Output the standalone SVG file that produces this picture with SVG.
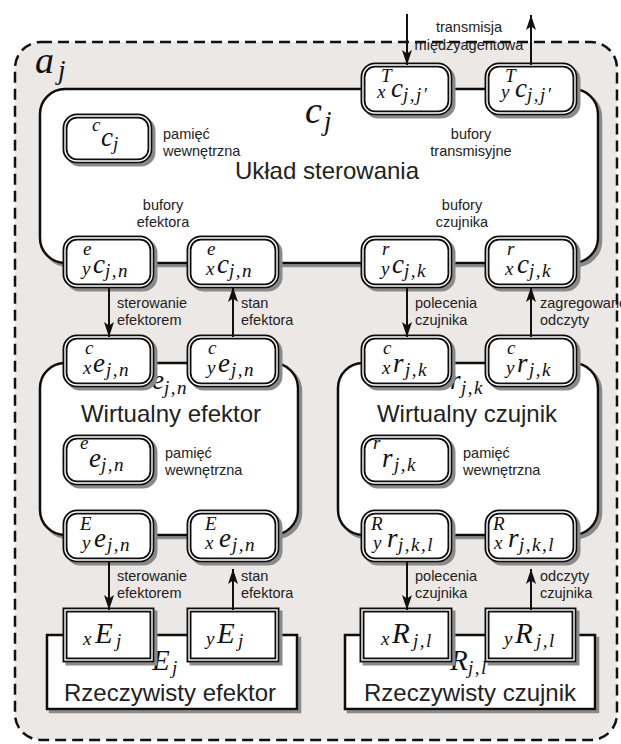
<svg xmlns="http://www.w3.org/2000/svg" width="621" height="744" viewBox="0 0 621 744">
<defs>
<style>
.frame{fill:#ebe8e6;stroke:#111;stroke-width:2.5;stroke-dasharray:11 6}
.main{fill:#fff;stroke:#111;stroke-width:2.5}
.bo{fill:#fff;stroke:#111;stroke-width:5}
.bi{fill:none;stroke:#fff;stroke-width:1.4}
.lb{font-family:"Liberation Sans",Arial,sans-serif;font-size:14.5px;fill:#222}
.tt{font-family:"Liberation Sans",Arial,sans-serif;font-size:24px;fill:#222;text-anchor:middle}
.mi{font-family:"Liberation Serif","Times New Roman",serif;font-style:italic;font-size:27px;fill:#111}
.sc{font-size:19px}
.ls{letter-spacing:1.5px}
.big{font-size:38px}
.r29{font-size:29px}
.con{stroke:#111;stroke-width:2;fill:none;marker-end:url(#ah)}
</style>
<filter id="sh" x="-10%" y="-10%" width="130%" height="130%">
<feOffset in="SourceAlpha" dx="3" dy="3" result="o"/>
<feGaussianBlur in="o" stdDeviation="0.7" result="b"/>
<feFlood flood-color="#8a8a8a"/>
<feComposite in2="b" operator="in" result="s"/>
<feMerge><feMergeNode in="s"/><feMergeNode in="SourceGraphic"/></feMerge>
</filter>
<marker id="ah" markerWidth="15" markerHeight="10" refX="15" refY="5" orient="auto" markerUnits="userSpaceOnUse">
<path d="M0,0 L15,5 L0,10 L3.5,5 z" fill="#111"/>
</marker>
</defs>

<g id="agent">
<rect class="frame" x="15" y="42" width="602" height="698" rx="26"/>
<text class="mi" x="35" y="73"><tspan class="big">a</tspan><tspan x="58" y="79">j</tspan></text>
</g>

<g id="control">
<rect class="main" x="40" y="89" width="558" height="174" rx="25" filter="url(#sh)"/>
<text class="mi" x="305" y="123"><tspan class="big">c</tspan><tspan x="324" y="130">j</tspan></text>
<text class="tt" x="327" y="179">Układ sterowania</text>
<text class="lb" x="163" y="139">pamięć</text>
<text class="lb" x="163" y="156">wewnętrzna</text>
<text class="lb" x="471" y="139" text-anchor="middle">bufory</text>
<text class="lb" x="471" y="156" text-anchor="middle">transmisyjne</text>
<text class="lb" x="163" y="210" text-anchor="middle">bufory</text>
<text class="lb" x="163" y="227" text-anchor="middle">efektora</text>
<text class="lb" x="462" y="210" text-anchor="middle">bufory</text>
<text class="lb" x="462" y="227" text-anchor="middle">czujnika</text>
</g>

<g id="mem-c">
<rect class="bo" x="65" y="116" width="85" height="45" rx="12" filter="url(#sh)"/><rect class="bi" x="65" y="116" width="85" height="45" rx="12"/>
<text class="mi"><tspan class="sc" x="92" y="131">c</tspan><tspan x="101" y="146">c</tspan><tspan class="sc" x="113" y="150">j</tspan></text>
</g>

<g id="buf-Tx">
<rect class="bo" x="363" y="65" width="87" height="48" rx="12" filter="url(#sh)"/><rect class="bi" x="363" y="65" width="87" height="48" rx="12"/>
<text class="mi"><tspan class="sc" x="381" y="82">T</tspan><tspan class="sc" x="377" y="98">x</tspan><tspan x="391" y="97">c</tspan><tspan class="sc ls" x="403" y="101">j,j′</tspan></text>
</g>
<g id="buf-Ty">
<rect class="bo" x="487" y="65" width="88" height="48" rx="12" filter="url(#sh)"/><rect class="bi" x="487" y="65" width="88" height="48" rx="12"/>
<text class="mi"><tspan class="sc" x="505" y="82">T</tspan><tspan class="sc" x="501" y="98">y</tspan><tspan x="515" y="97">c</tspan><tspan class="sc ls" x="527" y="101">j,j′</tspan></text>
</g>

<g id="buf-ey-c">
<rect class="bo" x="65" y="238" width="87" height="48" rx="12" filter="url(#sh)"/><rect class="bi" x="65" y="238" width="87" height="48" rx="12"/>
<text class="mi"><tspan class="sc" x="83" y="255">e</tspan><tspan class="sc" x="82" y="275">y</tspan><tspan x="93" y="273">c</tspan><tspan class="sc ls" x="105" y="277">j,n</tspan></text>
</g>
<g id="buf-ex-c">
<rect class="bo" x="189" y="238" width="88" height="48" rx="12" filter="url(#sh)"/><rect class="bi" x="189" y="238" width="88" height="48" rx="12"/>
<text class="mi"><tspan class="sc" x="207" y="255">e</tspan><tspan class="sc" x="206" y="275">x</tspan><tspan x="217" y="273">c</tspan><tspan class="sc ls" x="229" y="277">j,n</tspan></text>
</g>
<g id="buf-ry-c">
<rect class="bo" x="363" y="238" width="87" height="48" rx="12" filter="url(#sh)"/><rect class="bi" x="363" y="238" width="87" height="48" rx="12"/>
<text class="mi"><tspan class="sc" x="382" y="255">r</tspan><tspan class="sc" x="381" y="275">y</tspan><tspan x="392" y="273">c</tspan><tspan class="sc ls" x="404" y="277">j,k</tspan></text>
</g>
<g id="buf-rx-c">
<rect class="bo" x="487" y="238" width="88" height="48" rx="12" filter="url(#sh)"/><rect class="bi" x="487" y="238" width="88" height="48" rx="12"/>
<text class="mi"><tspan class="sc" x="507" y="255">r</tspan><tspan class="sc" x="505" y="275">x</tspan><tspan x="517" y="273">c</tspan><tspan class="sc ls" x="529" y="277">j,k</tspan></text>
</g>

<g id="virt-eff">
<rect class="main" x="40" y="363" width="258" height="172" rx="25" filter="url(#sh)"/>
<text class="mi"><tspan x="152" y="389">e</tspan><tspan class="sc ls" x="164" y="394">j,n</tspan></text>
<text class="tt" x="171" y="422">Wirtualny efektor</text>
<text class="lb" x="165" y="458">pamięć</text>
<text class="lb" x="165" y="475">wewnętrzna</text>
</g>
<g id="virt-sen">
<rect class="main" x="338" y="363" width="260" height="172" rx="25" filter="url(#sh)"/>
<text class="mi"><tspan x="450" y="389">r</tspan><tspan class="sc ls" x="461" y="394">j,k</tspan></text>
<text class="tt" x="467" y="422">Wirtualny czujnik</text>
<text class="lb" x="463" y="458">pamięć</text>
<text class="lb" x="463" y="475">wewnętrzna</text>
</g>

<g id="mem-e">
<rect class="bo" x="65" y="437" width="87" height="46" rx="12" filter="url(#sh)"/><rect class="bi" x="65" y="437" width="87" height="46" rx="12"/>
<text class="mi"><tspan class="sc" x="80" y="449">e</tspan><tspan x="89" y="467">e</tspan><tspan class="sc ls" x="101" y="471">j,n</tspan></text>
</g>
<g id="mem-r">
<rect class="bo" x="363" y="437" width="87" height="46" rx="12" filter="url(#sh)"/><rect class="bi" x="363" y="437" width="87" height="46" rx="12"/>
<text class="mi"><tspan class="sc" x="373" y="449">r</tspan><tspan x="382" y="467">r</tspan><tspan class="sc ls" x="394" y="471">j,k</tspan></text>
</g>

<g id="buf-cx-e">
<rect class="bo" x="65" y="337" width="87" height="48" rx="12" filter="url(#sh)"/><rect class="bi" x="65" y="337" width="87" height="48" rx="12"/>
<text class="mi"><tspan class="sc" x="85" y="354">c</tspan><tspan class="sc" x="83" y="374">x</tspan><tspan x="93" y="372">e</tspan><tspan class="sc ls" x="106" y="376">j,n</tspan></text>
</g>
<g id="buf-cy-e">
<rect class="bo" x="189" y="337" width="88" height="48" rx="12" filter="url(#sh)"/><rect class="bi" x="189" y="337" width="88" height="48" rx="12"/>
<text class="mi"><tspan class="sc" x="208" y="354">c</tspan><tspan class="sc" x="207" y="374">y</tspan><tspan x="218" y="372">e</tspan><tspan class="sc ls" x="231" y="376">j,n</tspan></text>
</g>
<g id="buf-cx-r">
<rect class="bo" x="363" y="337" width="87" height="48" rx="12" filter="url(#sh)"/><rect class="bi" x="363" y="337" width="87" height="48" rx="12"/>
<text class="mi"><tspan class="sc" x="383" y="354">c</tspan><tspan class="sc" x="382" y="374">x</tspan><tspan x="393" y="372">r</tspan><tspan class="sc ls" x="405" y="376">j,k</tspan></text>
</g>
<g id="buf-cy-r">
<rect class="bo" x="487" y="337" width="88" height="48" rx="12" filter="url(#sh)"/><rect class="bi" x="487" y="337" width="88" height="48" rx="12"/>
<text class="mi"><tspan class="sc" x="507" y="354">c</tspan><tspan class="sc" x="506" y="374">y</tspan><tspan x="517" y="372">r</tspan><tspan class="sc ls" x="529" y="376">j,k</tspan></text>
</g>

<g id="buf-Ey-e">
<rect class="bo" x="65" y="512" width="87" height="48" rx="12" filter="url(#sh)"/><rect class="bi" x="65" y="512" width="87" height="48" rx="12"/>
<text class="mi"><tspan class="sc" x="80" y="530">E</tspan><tspan class="sc" x="82" y="549">y</tspan><tspan x="94" y="547">e</tspan><tspan class="sc ls" x="107" y="551">j,n</tspan></text>
</g>
<g id="buf-Ex-e">
<rect class="bo" x="189" y="512" width="88" height="48" rx="12" filter="url(#sh)"/><rect class="bi" x="189" y="512" width="88" height="48" rx="12"/>
<text class="mi"><tspan class="sc" x="205" y="530">E</tspan><tspan class="sc" x="205" y="549">x</tspan><tspan x="219" y="547">e</tspan><tspan class="sc ls" x="232" y="551">j,n</tspan></text>
</g>
<g id="buf-Ry-r">
<rect class="bo" x="363" y="512" width="87" height="48" rx="12" filter="url(#sh)"/><rect class="bi" x="363" y="512" width="87" height="48" rx="12"/>
<text class="mi"><tspan class="sc" x="371" y="530">R</tspan><tspan class="sc" x="373" y="549">y</tspan><tspan x="387" y="547">r</tspan><tspan class="sc ls" x="398" y="551">j,k,l</tspan></text>
</g>
<g id="buf-Rx-r">
<rect class="bo" x="487" y="512" width="88" height="48" rx="12" filter="url(#sh)"/><rect class="bi" x="487" y="512" width="88" height="48" rx="12"/>
<text class="mi"><tspan class="sc" x="493" y="530">R</tspan><tspan class="sc" x="494" y="549">x</tspan><tspan x="508" y="547">r</tspan><tspan class="sc ls" x="519" y="551">j,k,l</tspan></text>
</g>

<g id="real-eff">
<rect class="main" x="47" y="635" width="250" height="74" filter="url(#sh)"/>
<text class="mi"><tspan class="r29" x="152" y="670">E</tspan><tspan class="sc" x="172" y="674">j</tspan></text>
<text class="tt" x="170" y="701">Rzeczywisty efektor</text>
</g>
<g id="real-sen">
<rect class="main" x="345" y="635" width="250" height="74" filter="url(#sh)"/>
<text class="mi"><tspan class="r29" x="450" y="670">R</tspan><tspan class="sc ls" x="468" y="674">j,l</tspan></text>
<text class="tt" x="470" y="701">Rzeczywisty czujnik</text>
</g>

<g id="buf-xE">
<rect class="bo" x="65" y="610" width="87" height="50" filter="url(#sh)"/><rect class="bi" x="65" y="610" width="87" height="50"/>
<text class="mi"><tspan class="sc" x="83" y="645">x</tspan><tspan class="r29" x="95" y="643">E</tspan><tspan class="sc" x="116" y="647">j</tspan></text>
</g>
<g id="buf-yE">
<rect class="bo" x="189" y="610" width="88" height="50" filter="url(#sh)"/><rect class="bi" x="189" y="610" width="88" height="50"/>
<text class="mi"><tspan class="sc" x="206" y="645">y</tspan><tspan class="r29" x="217" y="643">E</tspan><tspan class="sc" x="238" y="647">j</tspan></text>
</g>
<g id="buf-xR">
<rect class="bo" x="362" y="610" width="88" height="50" filter="url(#sh)"/><rect class="bi" x="362" y="610" width="88" height="50"/>
<text class="mi"><tspan class="sc" x="381" y="645">x</tspan><tspan class="r29" x="392" y="643">R</tspan><tspan class="sc ls" x="413" y="647">j,l</tspan></text>
</g>
<g id="buf-yR">
<rect class="bo" x="487" y="610" width="87" height="50" filter="url(#sh)"/><rect class="bi" x="487" y="610" width="87" height="50"/>
<text class="mi"><tspan class="sc" x="504" y="645">y</tspan><tspan class="r29" x="515" y="643">R</tspan><tspan class="sc ls" x="536" y="647">j,l</tspan></text>
</g>

<g id="connectors">
<line class="con" x1="407" y1="14" x2="407" y2="65"/>
<line class="con" x1="531" y1="65" x2="531" y2="15"/>
<line class="con" x1="109" y1="287" x2="109" y2="337"/>
<line class="con" x1="233" y1="337" x2="233" y2="287"/>
<line class="con" x1="407" y1="287" x2="407" y2="337"/>
<line class="con" x1="531" y1="337" x2="531" y2="287"/>
<line class="con" x1="109" y1="561" x2="109" y2="610"/>
<line class="con" x1="233" y1="610" x2="233" y2="569"/>
<line class="con" x1="407" y1="561" x2="407" y2="610"/>
<line class="con" x1="531" y1="610" x2="531" y2="569"/>
<text class="lb" x="469" y="32" text-anchor="middle">transmisja</text>
<text class="lb" x="469" y="50" text-anchor="middle">międzyagentowa</text>
<text class="lb" x="117" y="308">sterowanie</text>
<text class="lb" x="117" y="325">efektorem</text>
<text class="lb" x="241" y="308">stan</text>
<text class="lb" x="241" y="325">efektora</text>
<text class="lb" x="415" y="308">polecenia</text>
<text class="lb" x="415" y="325">czujnika</text>
<text class="lb" x="540" y="308">zagregowane</text>
<text class="lb" x="540" y="325">odczyty</text>
<text class="lb" x="117" y="581">sterowanie</text>
<text class="lb" x="117" y="598">efektorem</text>
<text class="lb" x="241" y="581">stan</text>
<text class="lb" x="241" y="598">efektora</text>
<text class="lb" x="415" y="581">polecenia</text>
<text class="lb" x="415" y="598">czujnika</text>
<text class="lb" x="540" y="581">odczyty</text>
<text class="lb" x="540" y="598">czujnika</text>
</g>
</svg>
